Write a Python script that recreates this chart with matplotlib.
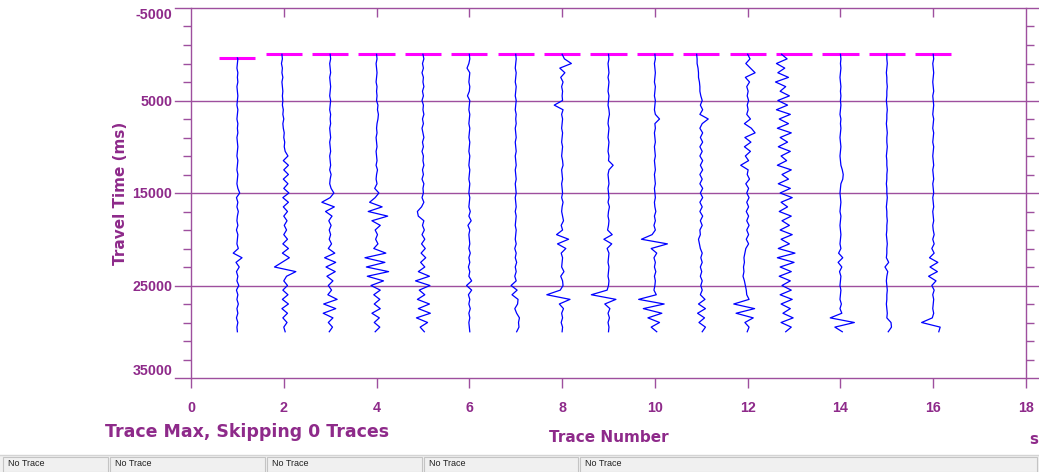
import numpy as np
import matplotlib
matplotlib.use('Agg')
import matplotlib.pyplot as plt
from matplotlib.patches import Rectangle
from matplotlib.ticker import FixedLocator

# trace display: 16 traces, amplitudes
trace_numbers = [1, 2, 3, 4, 5, 6, 7, 8, 9, 10, 11, 12, 13, 14, 15, 16]
first_break_ms = [400, 0, 0, 0, 0, 0, 0, 0, 0, 0, 0, 0, 0, 0, 0, 0]
sample_step_ms = 500   # one amplitude every 500 ms, 0 .. 30000 ms

# amplitudes in hundredths of one trace spacing
trace_01 = [0, 1, 0, -1, 1, 0, 1, -1, 0, 1,
            0, -1, 1, 0, -1, 1, 0, 1, -1, 0,
            1, 0, -1, 1, 0, -1, 1, 0, -1, 1,
            5, -2, 1, -1, 2, 0, -1, 1, -2, 1,
            0, -1, 2, -9, 10, -3, 4, -2, 1, -1,
            3, -2, 1, -1, 2, -1, 1, -2, 1, -1, 0]
trace_02 = [-4, -3, -5, -3, -4, -2, -4, -3, -2, -3,
            -2, -3, -1, -2, 0, -2, -1, 1, 0, 2,
            1, 3, 9, -1, 10, 0, 10, -1, 9, 0,
            11, -2, 10, -1, 8, 0, 7, 1, 6, 0,
            8, -2, 10, -3, 12, -4, -20, 26, 6, 0,
            8, -2, 9, -3, 10, -4, 8, -2, 7, 0, 3]
trace_03 = [0, 1, -1, 0, 1, -1, 0, 1, 0, -1,
            1, 0, -1, 1, 0, 1, -1, 0, 1, -1,
            0, 1, -1, 0, 1, -1, 2, 0, -1, 2,
            8, 0, -18, 9, -10, 4, -3, 2, -2, 1,
            -2, 3, -4, 10, -12, 12, -9, 11, -7, 6,
            -4, 3, -5, 15, -14, 12, -15, 6, -4, 5, -2]
trace_04 = [0, 1, -1, 0, 1, 0, -1, 1, 0, 1,
            0, 3, 2, 4, 3, 1, 0, 1, -1, 0,
            1, -1, 0, 1, -1, 2, 0, -1, 1, -4,
            5, -3, -15, 12, -18, 24, -10, 8, -3, 2,
            -2, 3, -6, 20, -25, 18, -22, 26, -20, 15,
            -12, 8, -6, 7, -5, 8, -10, 6, -5, 7, -3]
trace_05 = [0, 2, -1, 1, -2, 1, 0, 2, -1, 1,
            -2, 1, 0, 2, -1, 1, -2, 0, 2, -1,
            1, -2, 1, 0, 2, -1, 1, -2, 2, 0,
            1, -2, 2, -3, -12, -10, 2, -1, 3, -2,
            4, -3, 5, -4, 6, -5, 4, -10, 14, -16,
            15, -8, 4, -12, 14, -10, 16, -14, 10, -6, 3]
trace_06 = [0, 1, -1, -5, 1, 0, -1, 1, 0, -4,
            1, 0, -1, 1, 0, -1, 1, 0, -1, 1,
            0, -1, 1, 0, -1, 1, 0, -1, 1, 0,
            -1, 1, 0, -1, 2, -1, 4, -3, 1, -1,
            0, 1, -1, 2, -1, 1, -2, 1, -1, 5,
            -6, 5, -2, 1, -1, 2, -1, 1, -1, 0, 1]
trace_07 = [0, 1, 0, -1, 1, 0, -1, 1, 0, -1,
            1, 0, -1, 1, 0, 1, -1, 0, 1, -1,
            0, 1, -1, 0, 1, -1, 0, 1, -1, 0,
            1, -1, 0, 1, -1, 1, 0, -1, 1, 0,
            -1, 1, -2, 1, -1, 2, -1, 1, -2, 1,
            -10, 3, -8, 5, 4, -2, 2, 8, 6, 7, 2]
trace_08 = [0, 5, 20, -5, 6, -3, 2, -1, 1, 0,
            1, -17, 2, -1, 1, 0, -1, 1, 0, -1,
            1, 0, -1, 1, 2, -1, 0, 1, -1, 0,
            1, -1, 2, 0, -1, 1, 3, -2, 1, -12,
            14, -10, 8, -2, 1, 0, -1, 4, -3, 1,
            2, -4, -33, 17, -6, 3, -1, 1, -2, 1, 0]
trace_09 = [0, 1, -1, 0, 1, -1, 1, 0, -1, 1,
            0, -1, 1, 2, 0, -1, 1, 0, -1, 1,
            0, -1, 1, 0, 10, 1, -1, 0, 1, -1,
            0, 1, -1, 2, 0, -1, 1, 0, -2, 8,
            -10, 7, -3, 1, 0, -1, 1, 0, -1, 1,
            0, -3, -37, 16, -8, 3, -1, 2, -1, 1, 0]
trace_10 = [0, 1, -1, 0, 1, 0, -1, 1, 0, -1,
            1, 0, -1, 1, 10, 0, 1, -1, 0, 1,
            -1, 0, 1, -1, 0, 1, -1, 0, 1, -1,
            0, 1, -1, 0, 2, -1, 1, -2, 1, -6,
            -29, 27, -8, 4, -2, 1, -1, 2, -1, 1,
            0, -2, 3, -35, 20, -25, 15, -15, 10, -8, 4]
trace_11 = [-10, -9, -9, -7, -6, -6, -4, -3, -3, -1,
            2, -2, 3, -3, 15, 2, -3, 3, -2, 3,
            -3, 2, -3, 3, -2, 3, -3, 2, -3, 3,
            -2, 3, -3, 2, -3, 3, -2, 2, -3, -2,
            -6, -4, -2, 2, -1, 2, -2, 1, -2, 2,
            -1, 2, -2, 8, -6, 9, -8, 7, -5, 9, 2]
trace_12 = [0, 5, -4, 6, 16, -5, 4, -2, 1, -1,
            2, -1, 1, -2, 6, -7, 8, 16, -6, 7,
            -7, 6, -5, 2, -15, 1, -1, 4, -4, 2,
            -2, 3, -2, 2, -3, 2, -2, 3, -2, 2,
            -3, 2, -4, -6, -8, -7, -9, -8, -10, -7,
            -5, -3, -2, 3, -30, 15, -25, 12, -6, 3, -1]
trace_13 = [-27, -15, -38, -20, -35, -12, -40, -18, -30, -10,
            -35, -14, -38, -8, -32, -12, -36, -6, -30, -14,
            -34, -8, -28, -16, -36, -6, -26, -12, -34, -8,
            -30, -4, -28, -14, -32, -6, -26, -10, -30, -4,
            -28, -10, -34, 2, -36, 0, -30, -6, -32, -8,
            -26, -6, -30, -4, -28, -8, -24, -2, -28, -6, -18]
trace_14 = [0, 1, 0, 1, 0, -1, 0, 1, 0, 1,
            0, 1, 0, -1, 1, 0, 1, 0, -1, 0,
            1, 0, -1, 0, 1, 4, 6, 5, 1, 0,
            -1, 0, 1, 0, -1, 1, 0, -1, 0, 1,
            0, -1, 1, -4, 5, -5, 3, -2, 1, 0,
            -1, 1, 0, -1, 2, -1, 3, -22, 30, -12, 4]
trace_15 = [0, 0, 1, 0, -1, 0, 0, 1, 0, 0,
            -1, 0, 1, 0, 0, -1, 0, 1, 0, 0,
            1, 0, -1, 0, 0, 1, 0, 0, -1, 0,
            0, 1, 0, -1, 0, 0, 1, 0, 0, -1,
            0, 1, 0, 0, -1, 4, -4, 2, 0, -1,
            0, 1, 0, 0, -1, 0, 1, 0, 9, 10, 3]
trace_16 = [0, 1, -1, 0, 1, 0, -1, 0, 1, -1,
            0, 1, 0, -1, 1, 0, -1, 1, 0, -1,
            1, 0, -1, 0, 1, -1, 0, 1, -1, 0,
            1, -1, 0, 1, -1, 0, 1, -1, 0, 2,
            -1, 2, -3, 2, -8, 10, -7, 9, -10, 6,
            -3, 2, -1, 1, 0, -1, 1, -2, -25, 15, 12]
traces = [trace_01, trace_02, trace_03, trace_04, trace_05, trace_06, trace_07, trace_08,
          trace_09, trace_10, trace_11, trace_12, trace_13, trace_14, trace_15, trace_16]

x_ticks = [0, 2, 4, 6, 8, 10, 12, 14, 16, 18]
y_major = [-5000, 5000, 15000, 25000, 35000]
y_minor = np.arange(-5000, 35001, 2000)
status_cells = ['No Trace', 'No Trace', 'No Trace', 'No Trace', 'No Trace']

line_col = '#9e4f9e'
text_col = '#8e2a8a'

fig = plt.figure(figsize=(10.39, 4.72), dpi=100)
fig.patch.set_facecolor('white')
W, H = 1039.0, 472.0
ax = fig.add_axes([191 / W, 1 - 378 / H, 835 / W, 370 / H])

ax.set_xlim(0, 18)
ax.set_ylim(35000, -5000)

# first-break picks (magenta) then the traces
for num, pick in zip(trace_numbers, first_break_ms):
    ax.plot([num - 0.39, num + 0.39], [pick, pick], color='#ff00ff', lw=2.2,
            solid_capstyle='butt', zorder=2)
for num, pick, amps in zip(trace_numbers, first_break_ms, traces):
    t = np.arange(len(amps)) * float(sample_step_ms)
    t[0] = max(t[0], pick)
    ax.plot(num + np.array(amps) / 100.0, t, color='#0000ff', lw=0.9, zorder=3)

# long horizontal lines at the labelled times, sticking out both sides
for yv in y_major:
    ax.plot([-0.345, 18.6], [yv, yv], color=line_col, lw=1.0, clip_on=False, zorder=1)

for side in ['top', 'bottom']:
    ax.spines[side].set_visible(False)
for side in ['left', 'right']:
    ax.spines[side].set_color(line_col)
    ax.spines[side].set_linewidth(1.0)

ax.set_xticks(x_ticks)
ax.set_xticklabels([str(v) for v in x_ticks])
ax.tick_params(axis='x', direction='out', length=7.2, width=1.0, color=line_col,
               pad=9, labelcolor=text_col)
ax.set_yticks(y_major)
ax.set_yticklabels([str(v) for v in y_major])
ax.yaxis.set_minor_locator(FixedLocator(y_minor))
ax.tick_params(axis='y', which='major', length=0, pad=13.5, labelcolor=text_col)
ax.tick_params(axis='y', which='minor', direction='out', length=5.8, width=1.0,
               color=line_col, left=True, right=True)
for lab in ax.get_xticklabels() + ax.get_yticklabels():
    lab.set_fontfamily('Liberation Sans')
    lab.set_fontweight('bold')
    lab.set_fontsize(10.3)
ylabs = ax.get_yticklabels()
ylabs[0].set_va('top')
ylabs[-1].set_va('bottom')

top = ax.secondary_xaxis('top')
top.set_xticks(x_ticks[1:-1])
top.tick_params(direction='in', length=6.5, width=1.0, color=line_col, labeltop=False)
top.spines['top'].set_visible(False)

ax.set_ylabel('Travel Time (ms)', fontfamily='DejaVu Sans', fontweight='bold',
              fontsize=11, color=text_col)
ax.yaxis.set_label_coords(-0.076, 0.5)
ax.set_xlabel('Trace Number', fontfamily='DejaVu Sans', fontweight='bold',
              fontsize=11, color=text_col)
ax.xaxis.set_label_coords(0.5, -0.14)

fig.text(105 / W, 1 - 432 / H, 'Trace Max, Skipping 0 Traces', fontfamily='DejaVu Sans',
         fontweight='bold', fontsize=12.5, color=text_col, va='center', ha='left')
fig.text(1029 / W, 1 - 440 / H, 's', fontfamily='DejaVu Sans', fontweight='bold',
         fontsize=11, color=text_col, va='center', ha='left')

# status bar along the bottom
fig.patches.append(Rectangle((0, 0), 1, 17 / H, transform=fig.transFigure,
                             facecolor='#f0f0f0', edgecolor='none', zorder=0))
fig.lines.append(plt.Line2D([0, 1], [17 / H, 17 / H], transform=fig.transFigure,
                            color='#d4d4d4', lw=1.0))
cell_edges = [3, 110, 267, 424, 580, 1039]
for i, label in enumerate(status_cells):
    x0, x1 = cell_edges[i], cell_edges[i + 1] - 2
    fig.patches.append(Rectangle((x0 / W, 0.5 / H), (x1 - x0) / W, 14.5 / H,
                                 transform=fig.transFigure, facecolor='#f0f0f0',
                                 edgecolor='#c4c4c4', lw=0.8))
    fig.text((x0 + 5) / W, 8 / H, label, fontfamily='Liberation Sans', fontsize=6.5,
             color='#202020', va='center', ha='left')

fig.savefig('out.png', dpi=100)
